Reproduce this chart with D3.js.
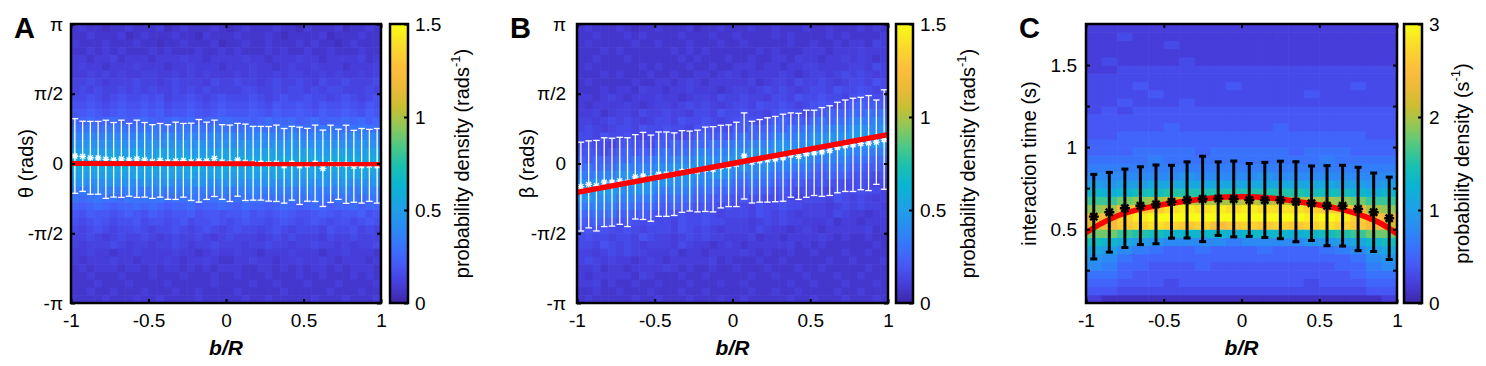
<!DOCTYPE html>
<html><head><meta charset="utf-8">
<script src="https://cdn.jsdelivr.net/npm/d3@7/dist/d3.min.js"></script>
<style>
html,body{margin:0;padding:0;background:#fff;}
svg{display:block;}
</style></head>
<body>
<svg id="chart" width="1486" height="366" xmlns="http://www.w3.org/2000/svg"></svg>
<script>
// ---------------- data ----------------
const xTicks = [-1, -0.5, 0, 0.5, 1];
const xTickLabels = ["-1", "-0.5", "0", "0.5", "1"];
const angleTicks = [-Math.PI, -Math.PI / 2, 0, Math.PI / 2, Math.PI];
const angleTickLabels = ["-π", "-π/2", "0", "π/2", "π"];
const timeTicks = [0.25, 0.5, 0.75, 1, 1.25, 1.5];
const timeTickLabels = ["", "0.5", "", "1", "", "1.5"];
const cbTicksAB = [0, 0.5, 1, 1.5];
const cbTickLabelsAB = ["0", "0.5", "1", "1.5"];
const cbTicksC = [0, 1, 2, 3];
const cbTickLabelsC = ["0", "1", "2", "3"];

// Panel A: mean and sd of theta (rad) per b/R bin (40 bins)
const meanA = [0.169,0.162,0.128,0.128,0.095,0.083,0.106,0.083,0.106,0.083,0.045,0.072,0.034,0.061,0.072,0.038,0.061,0.061,0.117,0.034,
               0.005,0.083,0.027,0.005,0.005,-0.007,0.005,-0.052,0.005,-0.052,-0.029,0.005,-0.108,-0.007,-0.018,-0.018,-0.063,-0.052,-0.041,-0.052];
const sdA = [0.84,0.79,0.82,0.82,0.88,0.84,0.87,0.82,0.87,0.84,0.83,0.83,0.84,0.87,0.83,0.87,0.93,0.87,0.86,0.84,
             0.86,0.82,0.86,0.83,0.83,0.84,0.86,0.84,0.83,0.87,0.82,0.86,0.86,0.87,0.79,0.88,0.81,0.84,0.81,0.84];
const fitAx = [-1, 1];
const fitAy = [0.0, -0.005];

// Panel B: mean and sd of beta (rad)
const meanB = [-0.52,-0.47,-0.50,-0.42,-0.42,-0.39,-0.42,-0.30,-0.28,-0.33,-0.24,-0.24,-0.24,-0.18,-0.17,-0.17,-0.13,-0.13,-0.07,-0.05,
               -0.02,0.17,0.03,0.06,0.08,0.10,0.13,0.19,0.16,0.22,0.24,0.26,0.29,0.36,0.40,0.42,0.45,0.46,0.48,0.54];
const sdB = [1.00,0.98,1.02,1.00,0.99,0.98,1.00,0.95,0.98,0.97,0.95,0.95,0.93,0.92,0.90,0.92,0.95,0.96,0.93,0.92,
             0.95,0.97,0.92,0.93,0.95,0.96,0.98,0.95,0.97,0.98,0.96,1.00,1.01,1.02,1.03,1.05,1.04,1.07,0.95,1.12];
const fitBx = [-1, 1];
const fitBy = [-0.65, 0.65];

// Panel C: mean and sd of interaction time (s), 20 bins
const meanC = [0.576,0.603,0.627,0.643,0.651,0.667,0.678,0.684,0.686,0.684,0.678,0.678,0.678,0.667,0.658,0.643,0.643,0.623,0.603,0.566];
const sdC = [0.258,0.243,0.239,0.237,0.240,0.222,0.232,0.260,0.224,0.231,0.222,0.229,0.236,0.244,0.227,0.244,0.246,0.254,0.239,0.251];
const fitCx = [-1,-0.9,-0.8,-0.6,-0.4,-0.2,0,0.2,0.4,0.6,0.8,0.9,1];
const fitCy = [0.478,0.535,0.580,0.633,0.665,0.688,0.697,0.688,0.662,0.630,0.575,0.533,0.472];

// Heatmap A: 36 rows (top = +pi) x 40 columns, base-36 digit * 0.025 (rad^-1)
const heatA = [
"3433233433 3423433343 2343334332 4333423343",
"3343334234 3334332433 3433343233 3342333433",
"4333433343 3233433342 3343343334 3433234333",
"3343434333 4343334334 3433343433 4334333433",
"4434453444 3444544344 4454434445 4434444534",
"4544344454 4434454443 4445443454 4544434445",
"4454545445 5445454544 4545445455 4454544545",
"5565455565 5456555465 5655456556 5465565556",
"5656556565 6556565655 5566556566 5656655565",
"6676567667 6756676567 6667656766 7665676567",
"7787678778 7867787678 7778768778 7687787687",
"8898789889 8978898789 8889879889 8798898798",
"aab9aba9ab a9abab9aab baa9abaab9 ab9aabab9a",
"ccdbcdcbcc dcbcdccbdc cbcdcbccdc bcdccbcdcb",
"ffgefgfefg fegffgefgf gfefgffegf efgfefgfgf",
"hhighihghh ighhigihgh hgihhgihih ghihhghihg",
"kkljklkjlk jlkkljkkjl kljkklkjkk lkjklkkjlk",
"mmnlmomlnm lnmmonlmnm mlnmmolnmm nmlmonmlmn",
"mnmlnmomlm nmlmmnolmn mmlnmomnlm lmnmmlnmom",
"kljkklkjlk kjlkkljkkl jkklkjlkkj lkkjklkljk",
"higghihhgi hhighhihgh ihghhighih hgihhighhi",
"edefeedfed efdeefdeef deefedfeed fedeefdefe",
"cbcdccbdcc cdbccdcbcd bccdcbccdc cdcbccdbcc",
"a9aba9aaba ba9aab9aab a9baa9aba9 aba9aab9aa",
"8798878987 9878897887 8897878987 7898788978",
"7678767786 7767867787 6787767876 7876776787",
"6567656676 5667656765 6766567656 6657667565",
"5565456556 5456556545 6555456565 5546556555",
"5455565455 4556545565 5545565545 5655454556",
"4454434454 4445443454 4544344454 4434454443",
"4344454434 4454344543 3445443445 4454344434",
"3434443443 4344343434 4433443434 3443434443",
"3343334333 4333433343 3433343334 3343334343",
"3334333433 3343333343 3334334333 4333433334",
"3343343334 3334334333 3433333433 3334333433",
"3333433343 3433334333 3343343333 3433343334"
];

// Heatmap B: 36 rows (top = +pi) x 40 columns, base-36 digit * 0.025 (rad^-1)
const heatB = [
"34333 43233 43334 23343 33433 43334 33433 34343",
"33433 34343 33343 33433 43333 43433 33434 33334",
"34333 33433 43334 33343 34333 33433 43343 44354",
"33343 43333 33434 34333 33343 43334 44344 45444",
"33433 34333 33343 43334 33433 44354 43445 45434",
"34333 33343 43334 33433 44434 43445 54444 55465",
"33343 43334 33433 44345 43444 45434 55456 56545",
"34333 33433 44345 43444 44534 55465 56545 66576",
"33343 44354 43445 44434 55456 56545 66576 67656",
"44345 43444 54434 55465 56554 66576 67665 78767",
"43444 45434 55456 56545 66576 67656 78767 9a898",
"44534 55465 56554 66576 67665 78776 98a99 bacbc",
"55456 56545 66576 67656 78767 9a898 bcabb efdfe",
"56545 66576 67665 78776 98a99 bacbc edefe higgh",
"66576 67656 78767 9a898 bcabb efdfe hgihh jkijl",
"67665 78776 98a99 bacbc edefe higgh jkijj hghih",
"78767 9a898 bcabb efdfe hgihh jjkij higgh efede",
"98a99 bacbc edefe higgh jkjji hghih edfee bcbab",
"bcabb efdfe hgihh jijkj higgh efede bacbc 9a898",
"edefe higgh jkjij hghih edfee bcbab 98a99 78767",
"hgihh jjkji higgh efede bacbc 9a898 78776 67656",
"jijkj hghih edfee bcbab 98a99 78767 66576 67665",
"higgh efede bacbc 9a898 78776 67656 66576 56545",
"edfee bcbab 98a99 78767 66576 67665 55456 56554",
"bacbc 9a898 78776 67656 66576 56545 55465 44345",
"98a99 78767 66576 67665 55456 56554 44534 43444",
"78776 67656 66576 56545 55465 44345 43444 44534",
"67665 66576 55456 56554 44534 43444 45434 33433",
"66576 56545 55465 44345 43444 44534 34333 33343",
"55456 56554 44534 43444 45434 33433 43334 33433",
"56545 44345 43444 44534 33343 34333 33433 43334",
"44534 43444 45434 33433 43334 33343 34333 33433",
"43444 44354 33343 34333 33433 43334 33343 34333",
"44534 33433 43334 33343 34333 33433 43334 33343",
"33433 43334 33343 34333 33433 43343 33343 34333",
"34333 33433 43334 33343 34333 33433 43334 33343"
];

// Heatmap C: 20 columns (b/R bins), each 34 time bins from 0.05 s (bottom) to 1.75 s (top); base-36 digit * 0.1 (s^-1)
const heatC = [
"245689beimojgda8765544433333222222",
"145678adiopkgc98765544443333232222",
"1345568bgqroida8765554434333322232",
"1344557afrtqjea8766554443343322222",
"13444569esuqkeb8776554443433322222",
"13344558druslfb8766555443333322322",
"13444558dqutlfb9766554444333332222",
"13445568druskfb8765554443333322222",
"13444558dputkfb8766554443333322222",
"13444557cquskfb8766554443343322222",
"13444558drutlfb8766554443333322222",
"13444568dquskfb9766554443333322222",
"13444558druslfb8766555443333322222",
"13444558cquskfb8765554443333322222",
"13344559drtrkeb8766554443433322222",
"13444569esuqkeb8776554443333322222",
"1344557afrtqjea8766554443333322222",
"1345568bgqroida8765554443343322222",
"145678adiopkgc98765544443333322222",
"245689beimojgda8765544443333322222"
];

// parula-like colormap
const cmapStops = [0,0.07,0.14,0.21,0.28,0.35,0.42,0.49,0.56,0.63,0.70,0.77,0.84,0.91,1];
const cmapColors = ["#3e26a8","#463edc","#475af8","#3776fc","#288ff2","#1ca3e4","#0ab4d2","#19c0b1","#4bc887","#8cc85a","#c8be32","#ebb937","#fdbe3c","#fad72d","#f9fb14"];

// ---------------- drawing ----------------
const svg = d3.select("#chart");
const FONT = "'Liberation Sans', Arial, Helvetica, sans-serif";
const plotTop = 24, plotBottom = 303;
const cmap = d3.scaleLinear().domain(cmapStops).range(cmapColors).interpolate(d3.interpolateRgb).clamp(true);
const decode = s => s.replace(/\s/g, "").split("").map(ch => parseInt(ch, 36));

function cellsRows(rows, nCols, unit) {
  const out = [];
  const nRows = rows.length, dth = 2 * Math.PI / nRows, db = 2 / nCols;
  rows.forEach((s, r) => {
    decode(s).forEach((v, c) => {
      out.push({ b0: -1 + c * db, b1: -1 + (c + 1) * db, v1: Math.PI - r * dth, v0: Math.PI - (r + 1) * dth, val: v * unit });
    });
  });
  return out;
}
function cellsCols(cols, t0, dt, unit) {
  const out = [];
  const db = 2 / cols.length;
  cols.forEach((s, c) => {
    decode(s).forEach((v, i) => {
      out.push({ b0: -1 + c * db, b1: -1 + (c + 1) * db, v0: t0 + i * dt, v1: t0 + (i + 1) * dt, val: v * unit });
    });
  });
  return out;
}
const centers = n => d3.range(n).map(k => -1 + (k + 0.5) * 2 / n);

function asterisk(s) {
  const d = s * 0.72;
  return `M${-s},0H${s}M0,${-s}V${s}M${-d},${-d}L${d},${d}M${-d},${d}L${d},${-d}`;
}

const defs = svg.append("defs");

function panel(cfg) {
  const g = svg.append("g");
  const x = d3.scaleLinear().domain([-1, 1]).range([cfg.x0, cfg.x1]);
  const y = d3.scaleLinear().domain(cfg.yDomain).range([plotBottom, plotTop]);

  // heatmap
  g.append("g").selectAll("rect").data(cfg.cells).join("rect")
    .attr("x", d => x(d.b0)).attr("width", d => x(d.b1) - x(d.b0) + 0.6)
    .attr("y", d => y(d.v1)).attr("height", d => y(d.v0) - y(d.v1) + 0.6)
    .attr("fill", d => cmap(d.val / cfg.cmax));

  const bx = centers(cfg.mean.length);
  const fitLine = d3.line().x(d => x(d[0])).y(d => y(d[1]));
  if (cfg.curve) fitLine.curve(d3.curveMonotoneX);
  const fitData = cfg.fitX.map((v, i) => [v, cfg.fitY[i]]);

  const drawFit = () => g.append("path").datum(fitData).attr("d", fitLine)
      .attr("fill", "none").attr("stroke", "#ff0000").attr("stroke-width", cfg.fitW);

  const drawBars = () => {
    const eb = g.append("g").attr("stroke", cfg.barColor).attr("stroke-width", cfg.barW).attr("fill", "none");
    cfg.mean.forEach((m, k) => {
      const xc = x(bx[k]), yt = y(m + cfg.sd[k]), yb = y(m - cfg.sd[k]);
      eb.append("line").attr("x1", xc).attr("x2", xc).attr("y1", yt).attr("y2", yb);
      eb.append("line").attr("x1", xc - cfg.cap).attr("x2", xc + cfg.cap).attr("y1", yt).attr("y2", yt);
      eb.append("line").attr("x1", xc - cfg.cap).attr("x2", xc + cfg.cap).attr("y1", yb).attr("y2", yb);
    });
    g.append("g").selectAll("path").data(cfg.mean).join("path")
      .attr("transform", (m, k) => `translate(${x(bx[k])},${y(m)})`)
      .attr("d", asterisk(cfg.starR)).attr("stroke", cfg.barColor).attr("stroke-width", cfg.starW).attr("fill", "none");
  };
  if (cfg.fitOnTop) { drawBars(); drawFit(); } else { drawFit(); drawBars(); }

  // axes
  const styleAxis = a => {
    a.select(".domain").remove();
    a.selectAll(".tick line").attr("stroke", "#000").attr("stroke-width", 2);
    a.selectAll("text").attr("font-family", FONT).attr("font-size", 19).attr("fill", "#000");
  };
  g.append("g").attr("transform", `translate(0,${plotBottom})`)
    .call(d3.axisBottom(x).tickValues(xTicks).tickFormat((d, i) => xTickLabels[i]).tickSizeInner(-4).tickSizeOuter(0).tickPadding(10.5))
    .call(styleAxis);
  g.append("g").attr("transform", `translate(0,${plotTop})`)
    .call(d3.axisTop(x).tickValues(xTicks).tickFormat("").tickSizeInner(-4).tickSizeOuter(0))
    .call(styleAxis);
  g.append("g").attr("transform", `translate(${cfg.x0},0)`)
    .call(d3.axisLeft(y).tickValues(cfg.yTicks).tickFormat((d, i) => cfg.yTickLabels[i]).tickSizeInner(-4).tickSizeOuter(0).tickPadding(cfg.yPad))
    .call(styleAxis);
  g.append("g").attr("transform", `translate(${cfg.x1},0)`)
    .call(d3.axisRight(y).tickValues(cfg.yTicks).tickFormat("").tickSizeInner(-4).tickSizeOuter(0))
    .call(styleAxis);

  // box
  g.append("rect").attr("x", cfg.x0).attr("y", plotTop).attr("width", cfg.x1 - cfg.x0).attr("height", plotBottom - plotTop)
    .attr("fill", "none").attr("stroke", "#000").attr("stroke-width", 2.5);

  // colorbar
  const gid = "grad" + cfg.letter;
  const grad = defs.append("linearGradient").attr("id", gid).attr("x1", 0).attr("y1", 1).attr("x2", 0).attr("y2", 0);
  d3.range(0, 1.0001, 0.02).forEach(t => grad.append("stop").attr("offset", t).attr("stop-color", cmap(t)));
  const cy = d3.scaleLinear().domain([0, cfg.cmax]).range([plotBottom, plotTop]);
  g.append("rect").attr("x", cfg.cb0).attr("y", plotTop).attr("width", cfg.cb1 - cfg.cb0).attr("height", plotBottom - plotTop)
    .attr("fill", `url(#${gid})`).attr("stroke", "#000").attr("stroke-width", 2.5);
  g.append("g").attr("transform", `translate(${cfg.cb1},0)`)
    .call(d3.axisRight(cy).tickValues(cfg.cbTicks).tickFormat((d, i) => cfg.cbTickLabels[i]).tickSizeInner(-4).tickSizeOuter(0).tickPadding(7))
    .call(styleAxis);

  // labels
  g.append("text").attr("x", (cfg.x0 + cfg.x1) / 2).attr("y", 355).attr("text-anchor", "middle")
    .attr("font-family", FONT).attr("font-size", 21).attr("font-style", "italic").attr("font-weight", "bold").text("b/R");
  g.append("text").attr("transform", `translate(${cfg.ylabX},${(plotTop + plotBottom) / 2}) rotate(-90)`)
    .attr("text-anchor", "middle").attr("dominant-baseline", "central")
    .attr("font-family", FONT).attr("font-size", 20).text(cfg.ylabel);
  const ct = g.append("text").attr("transform", `translate(${cfg.cbLabX},${(plotTop + plotBottom) / 2}) rotate(-90)`)
    .attr("text-anchor", "middle").attr("dominant-baseline", "central")
    .attr("font-family", FONT).attr("font-size", 20);
  ct.append("tspan").text(cfg.cbLabel[0]);
  ct.append("tspan").attr("dy", -7).attr("font-size", 13).text("-1");
  ct.append("tspan").attr("dy", 7).text(cfg.cbLabel[1]);
  g.append("text").attr("x", cfg.letterX).attr("y", 38).attr("font-family", FONT).attr("font-size", 29)
    .attr("font-weight", "bold").text(cfg.letter);
}

panel({
  letter: "A", letterX: 14, x0: 71, x1: 381, cb0: 390, cb1: 408,
  yDomain: [-Math.PI, Math.PI], yTicks: angleTicks, yTickLabels: angleTickLabels, yPad: 8,
  cells: cellsRows(heatA, 40, 0.025), cmax: 1.5,
  mean: meanA, sd: sdA, fitX: fitAx, fitY: fitAy, curve: false, fitW: 5, fitOnTop: true,
  barColor: "#ffffff", barW: 1.3, cap: 3.3, starR: 3.4, starW: 1.3,
  cbTicks: cbTicksAB, cbTickLabels: cbTickLabelsAB,
  ylabX: 26, ylabel: "θ (rads)", cbLabX: 462, cbLabel: ["probability density (rads", ")"]
});
panel({
  letter: "B", letterX: 510, x0: 577, x1: 888, cb0: 896, cb1: 913,
  yDomain: [-Math.PI, Math.PI], yTicks: angleTicks, yTickLabels: angleTickLabels, yPad: 11,
  cells: cellsRows(heatB, 40, 0.025), cmax: 1.5,
  mean: meanB, sd: sdB, fitX: fitBx, fitY: fitBy, curve: false, fitW: 5.5, fitOnTop: true,
  barColor: "#ffffff", barW: 1.3, cap: 3.3, starR: 3.4, starW: 1.3,
  cbTicks: cbTicksAB, cbTickLabels: cbTickLabelsAB,
  ylabX: 527, ylabel: "β (rads)", cbLabX: 968, cbLabel: ["probability density (rads", ")"]
});
panel({
  letter: "C", letterX: 1019, x0: 1086, x1: 1397, cb0: 1404, cb1: 1422,
  yDomain: [0.05, 1.75], yTicks: timeTicks, yTickLabels: timeTickLabels, yPad: 9,
  cells: cellsCols(heatC, 0.05, 0.05, 0.1), cmax: 3,
  mean: meanC, sd: sdC, fitX: fitCx, fitY: fitCy, curve: true, fitW: 5.5, fitOnTop: false,
  barColor: "#000000", barW: 3, cap: 3.5, starR: 5, starW: 2.4,
  cbTicks: cbTicksC, cbTickLabels: cbTickLabelsC,
  ylabX: 1029, ylabel: "interaction time (s)", cbLabX: 1462, cbLabel: ["probability density (s", ")"]
});
</script>
</body></html>
